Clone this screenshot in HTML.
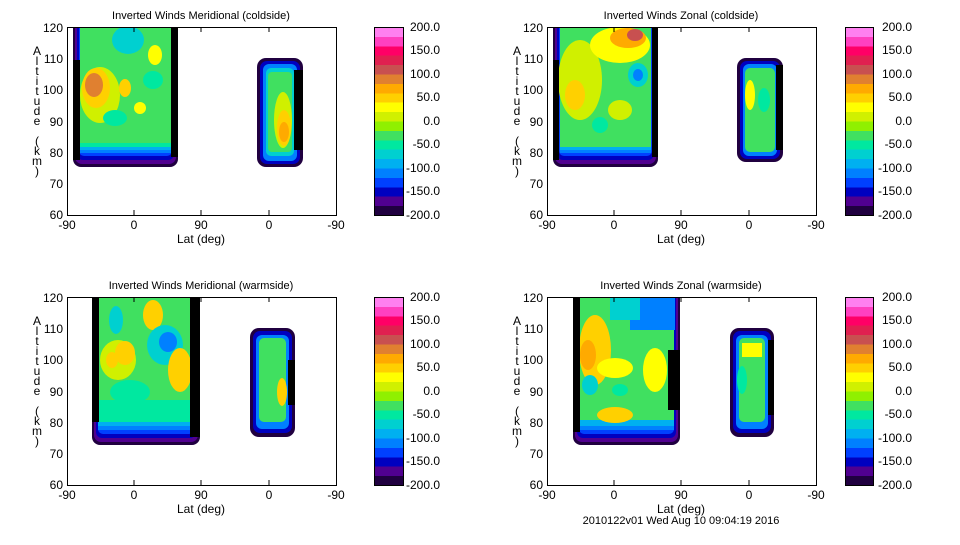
<!DOCTYPE html>
<html><head><meta charset="utf-8"><style>
body{margin:0;background:#fff}
svg text{font-family:"Liberation Sans","DejaVu Sans",sans-serif;font-size:11px;fill:#000}
</style></head><body>
<svg width="960" height="540" viewBox="0 0 960 540" xmlns="http://www.w3.org/2000/svg">
<defs>
<clipPath id="fr"><rect x="67" y="27" width="269" height="188"/></clipPath>
<linearGradient id="cb" x1="0" y1="0" x2="0" y2="1">
<stop offset="0" stop-color="#ff80f0"/><stop offset="0.05" stop-color="#ff80f0"/>
<stop offset="0.05" stop-color="#ff40c0"/><stop offset="0.1" stop-color="#ff40c0"/>
<stop offset="0.1" stop-color="#ff0066"/><stop offset="0.15" stop-color="#ff0066"/>
<stop offset="0.15" stop-color="#e02050"/><stop offset="0.2" stop-color="#e02050"/>
<stop offset="0.2" stop-color="#c85050"/><stop offset="0.25" stop-color="#c85050"/>
<stop offset="0.25" stop-color="#e08030"/><stop offset="0.3" stop-color="#e08030"/>
<stop offset="0.3" stop-color="#ffaa00"/><stop offset="0.35" stop-color="#ffaa00"/>
<stop offset="0.35" stop-color="#ffd000"/><stop offset="0.4" stop-color="#ffd000"/>
<stop offset="0.4" stop-color="#ffff00"/><stop offset="0.45" stop-color="#ffff00"/>
<stop offset="0.45" stop-color="#d0f000"/><stop offset="0.5" stop-color="#d0f000"/>
<stop offset="0.5" stop-color="#90f000"/><stop offset="0.55" stop-color="#90f000"/>
<stop offset="0.55" stop-color="#40e060"/><stop offset="0.6" stop-color="#40e060"/>
<stop offset="0.6" stop-color="#00e8a0"/><stop offset="0.65" stop-color="#00e8a0"/>
<stop offset="0.65" stop-color="#00d0d0"/><stop offset="0.7" stop-color="#00d0d0"/>
<stop offset="0.7" stop-color="#00b0f0"/><stop offset="0.75" stop-color="#00b0f0"/>
<stop offset="0.75" stop-color="#0080ff"/><stop offset="0.8" stop-color="#0080ff"/>
<stop offset="0.8" stop-color="#0040ff"/><stop offset="0.85" stop-color="#0040ff"/>
<stop offset="0.85" stop-color="#0000c0"/><stop offset="0.9" stop-color="#0000c0"/>
<stop offset="0.9" stop-color="#500090"/><stop offset="0.95" stop-color="#500090"/>
<stop offset="0.95" stop-color="#200040"/><stop offset="1" stop-color="#200040"/>
</linearGradient>
</defs>

<!-- ===== Panel TL ===== -->
<g>
<g clip-path="url(#fr)">
<g><rect x="73" y="10" width="105" height="157" rx="8" fill="#200040"/><rect x="75" y="10" width="101" height="154" rx="7" fill="#500090"/><rect x="77" y="10" width="97" height="150" rx="6" fill="#0000c0"/><rect x="79" y="10" width="93" height="146" rx="5" fill="#0040ff"/><rect x="80" y="10" width="91" height="143" fill="#0080ff"/><rect x="80" y="10" width="91" height="140" fill="#00b0f0"/><rect x="80" y="10" width="91" height="137" fill="#00e8a0"/><rect x="80" y="10" width="91" height="133" fill="#40e060"/></g>
<ellipse cx="100" cy="95" rx="20" ry="28" fill="#d0f000"/><ellipse cx="96" cy="88" rx="14" ry="20" fill="#ffd000"/><ellipse cx="94" cy="85" rx="9" ry="12" fill="#e08030"/>
<ellipse cx="125" cy="88" rx="6" ry="9" fill="#ffd000"/><ellipse cx="115" cy="118" rx="12" ry="8" fill="#00e8a0"/><ellipse cx="153" cy="80" rx="10" ry="9" fill="#00e8a0"/><ellipse cx="155" cy="55" rx="7" ry="10" fill="#ffff00"/><ellipse cx="140" cy="108" rx="6" ry="6" fill="#ffff00"/><ellipse cx="128" cy="40" rx="16" ry="14" fill="#00d0d0"/>
<rect x="73" y="60" width="7" height="100" fill="#000"/><rect x="171" y="27" width="7" height="130" fill="#000"/>
<g><rect x="257" y="58" width="46" height="109" rx="9" fill="#200040"/><rect x="260" y="61" width="40" height="103" rx="7" fill="#0000c0"/><rect x="263" y="64" width="34" height="97" rx="6" fill="#0080ff"/><rect x="266" y="68" width="28" height="88" rx="5" fill="#00d0d0"/><rect x="268" y="72" width="24" height="80" rx="4" fill="#40e060"/><ellipse cx="283" cy="120" rx="9" ry="28" fill="#d0f000"/><ellipse cx="284" cy="128" rx="7" ry="18" fill="#ffd000"/><ellipse cx="284" cy="132" rx="5" ry="10" fill="#ffaa00"/><rect x="294" y="70" width="9" height="80" fill="#000"/></g>
</g>
</g>

<!-- ===== Panel TR ===== -->
<g transform="translate(480,0)">
<g clip-path="url(#fr)">
<g><rect x="73" y="10" width="105" height="157" rx="8" fill="#200040"/><rect x="75" y="10" width="101" height="154" rx="7" fill="#500090"/><rect x="77" y="10" width="97" height="150" rx="6" fill="#0000c0"/><rect x="79" y="10" width="93" height="146" rx="5" fill="#0040ff"/><rect x="80" y="10" width="91" height="143" fill="#0080ff"/><rect x="80" y="10" width="91" height="140" fill="#00b0f0"/><rect x="80" y="10" width="91" height="137" fill="#40e060"/></g>
<ellipse cx="100" cy="80" rx="22" ry="40" fill="#d0f000"/><ellipse cx="95" cy="95" rx="10" ry="15" fill="#ffd000"/><ellipse cx="140" cy="45" rx="30" ry="18" fill="#ffff00"/><ellipse cx="148" cy="38" rx="18" ry="10" fill="#ffaa00"/><ellipse cx="155" cy="35" rx="8" ry="6" fill="#c85050"/>
<ellipse cx="158" cy="75" rx="10" ry="12" fill="#00d0d0"/><ellipse cx="158" cy="75" rx="5" ry="6" fill="#0080ff"/><ellipse cx="120" cy="125" rx="8" ry="8" fill="#00e8a0"/><ellipse cx="140" cy="110" rx="12" ry="10" fill="#d0f000"/>
<rect x="73" y="60" width="6" height="100" fill="#000"/><rect x="172" y="27" width="6" height="130" fill="#000"/>
<g><rect x="257" y="58" width="46" height="104" rx="9" fill="#200040"/><rect x="260" y="61" width="40" height="98" rx="7" fill="#0000c0"/><rect x="263" y="64" width="34" height="92" rx="6" fill="#0080ff"/><rect x="265" y="68" width="30" height="84" rx="5" fill="#40e060"/><ellipse cx="270" cy="95" rx="5" ry="15" fill="#ffff00"/><ellipse cx="284" cy="100" rx="6" ry="12" fill="#00e8a0"/><rect x="296" y="65" width="7" height="85" fill="#000"/></g>
</g>
</g>

<!-- ===== Panel BL ===== -->
<g transform="translate(0,270)">
<g clip-path="url(#fr)">
<g><rect x="92" y="10" width="108" height="165" rx="8" fill="#200040"/><rect x="94" y="10" width="104" height="162" rx="7" fill="#500090"/><rect x="96" y="10" width="100" height="158" rx="6" fill="#0000c0"/><rect x="98" y="10" width="96" height="154" rx="5" fill="#0040ff"/><rect x="98" y="10" width="96" height="150" fill="#0080ff"/><rect x="98" y="10" width="96" height="146" fill="#00b0f0"/><rect x="98" y="10" width="96" height="142" fill="#00e8a0"/><rect x="98" y="10" width="96" height="120" fill="#40e060"/></g>
<ellipse cx="118" cy="90" rx="18" ry="20" fill="#d0f000"/><ellipse cx="125" cy="83" rx="10" ry="12" fill="#ffd000"/><ellipse cx="112" cy="90" rx="6" ry="8" fill="#ffd000"/>
<ellipse cx="153" cy="45" rx="10" ry="15" fill="#ffd000"/><ellipse cx="165" cy="75" rx="18" ry="20" fill="#00d0d0"/><ellipse cx="168" cy="72" rx="9" ry="10" fill="#0080ff"/><ellipse cx="180" cy="100" rx="12" ry="22" fill="#ffd000"/><ellipse cx="116" cy="50" rx="7" ry="14" fill="#00d0d0"/><ellipse cx="130" cy="122" rx="20" ry="12" fill="#00e8a0"/>
<rect x="92" y="27" width="7" height="125" fill="#000"/><rect x="190" y="27" width="10" height="140" fill="#000"/>
<g><rect x="250" y="58" width="45" height="109" rx="9" fill="#200040"/><rect x="253" y="61" width="39" height="102" rx="7" fill="#0000c0"/><rect x="256" y="65" width="33" height="94" rx="6" fill="#0080ff"/><rect x="259" y="68" width="27" height="84" rx="5" fill="#40e060"/><ellipse cx="282" cy="122" rx="5" ry="14" fill="#ffd000"/><rect x="288" y="90" width="7" height="45" fill="#000"/></g>
</g>
</g>

<!-- ===== Panel BR ===== -->
<g transform="translate(480,270)">
<g clip-path="url(#fr)">
<g><rect x="93" y="10" width="107" height="165" rx="8" fill="#200040"/><rect x="95" y="10" width="103" height="162" rx="7" fill="#500090"/><rect x="97" y="10" width="99" height="158" rx="6" fill="#0000c0"/><rect x="99" y="10" width="95" height="154" rx="5" fill="#0040ff"/><rect x="99" y="10" width="95" height="150" fill="#0080ff"/><rect x="99" y="10" width="95" height="146" fill="#00b0f0"/><rect x="99" y="10" width="95" height="140" fill="#40e060"/></g>
<rect x="150" y="10" width="45" height="50" fill="#0080ff"/><rect x="130" y="10" width="30" height="40" fill="#00d0d0"/>
<ellipse cx="115" cy="80" rx="16" ry="35" fill="#ffd000"/><ellipse cx="108" cy="85" rx="8" ry="15" fill="#ffaa00"/><ellipse cx="135" cy="98" rx="18" ry="10" fill="#ffff00"/><ellipse cx="175" cy="100" rx="12" ry="22" fill="#ffff00"/><ellipse cx="135" cy="145" rx="18" ry="8" fill="#ffd000"/><ellipse cx="110" cy="115" rx="8" ry="10" fill="#00d0d0"/><ellipse cx="140" cy="120" rx="8" ry="6" fill="#00e8a0"/>
<rect x="93" y="27" width="7" height="135" fill="#000"/><rect x="188" y="80" width="12" height="60" fill="#000"/>
<g><rect x="250" y="58" width="44" height="109" rx="9" fill="#200040"/><rect x="253" y="61" width="38" height="102" rx="7" fill="#0000c0"/><rect x="256" y="65" width="32" height="94" rx="6" fill="#0080ff"/><rect x="259" y="68" width="26" height="84" rx="5" fill="#40e060"/><rect x="262" y="73" width="20" height="14" fill="#ffff00"/><ellipse cx="262" cy="110" rx="5" ry="14" fill="#00e8a0"/><rect x="288" y="70" width="6" height="75" fill="#000"/></g>
</g>
</g>

<!-- frames -->
<g fill="none" stroke="#000" stroke-width="1">
<rect x="67.5" y="27.5" width="269" height="188"/><rect x="547.5" y="27.5" width="269" height="188"/>
<rect x="67.5" y="297.5" width="269" height="188"/><rect x="547.5" y="297.5" width="269" height="188"/>
</g>
<g fill="url(#cb)" stroke="#000">
<rect x="374.5" y="27.5" width="29" height="188"/><rect x="845.5" y="27.5" width="28" height="188"/>
<rect x="374.5" y="297.5" width="29" height="188"/><rect x="845.5" y="297.5" width="28" height="188"/>
</g>

<g>
<text x="201" y="19" text-anchor="middle">Inverted Winds Meridional (coldside)</text>
<text x="681" y="19" text-anchor="middle">Inverted Winds Zonal (coldside)</text>
<text x="201" y="289" text-anchor="middle">Inverted Winds Meridional (warmside)</text>
<text x="681" y="289" text-anchor="middle">Inverted Winds Zonal (warmside)</text>
<text x="681" y="524" text-anchor="middle">2010122v01 Wed Aug 10 09:04:19 2016</text>
</g>

<g>
<g text-anchor="end">
<text x="63" y="32" style="font-size:12px">120</text><text x="63" y="63" style="font-size:12px">110</text><text x="63" y="94" style="font-size:12px">100</text><text x="63" y="126" style="font-size:12px">90</text><text x="63" y="157" style="font-size:12px">80</text><text x="63" y="188" style="font-size:12px">70</text><text x="63" y="219" style="font-size:12px">60</text>
</g>
<g text-anchor="middle">
<text x="67" y="229" style="font-size:12px">-90</text><text x="134" y="229" style="font-size:12px">0</text><text x="201" y="229" style="font-size:12px">90</text><text x="269" y="229" style="font-size:12px">0</text><text x="336" y="229" style="font-size:12px">-90</text>
<text x="201" y="243" style="font-size:12px">Lat (deg)</text>
</g>
<text x="37" y="55" text-anchor="middle" style="font-size:12px">A</text><text x="37" y="65" text-anchor="middle" style="font-size:12px">l</text><text x="37" y="75" text-anchor="middle" style="font-size:12px">t</text><text x="37" y="85" text-anchor="middle" style="font-size:12px">i</text><text x="37" y="95" text-anchor="middle" style="font-size:12px">t</text><text x="37" y="105" text-anchor="middle" style="font-size:12px">u</text><text x="37" y="115" text-anchor="middle" style="font-size:12px">d</text><text x="37" y="125" text-anchor="middle" style="font-size:12px">e</text><text x="37" y="145" text-anchor="middle" style="font-size:12px">(</text><text x="37" y="155" text-anchor="middle" style="font-size:12px">k</text><text x="37" y="165" text-anchor="middle" style="font-size:12px">m</text><text x="37" y="175" text-anchor="middle" style="font-size:12px">)</text>
<g text-anchor="end">
<text x="440" y="31" style="font-size:12px">200.0</text><text x="440" y="54" style="font-size:12px">150.0</text><text x="440" y="78" style="font-size:12px">100.0</text><text x="440" y="101" style="font-size:12px">50.0</text><text x="440" y="125" style="font-size:12px">0.0</text><text x="440" y="148" style="font-size:12px">-50.0</text><text x="440" y="172" style="font-size:12px">-100.0</text><text x="440" y="195" style="font-size:12px">-150.0</text><text x="440" y="219" style="font-size:12px">-200.0</text>
</g>
</g>

<g transform="translate(480,0)">
<g text-anchor="end">
<text x="63" y="32" style="font-size:12px">120</text><text x="63" y="63" style="font-size:12px">110</text><text x="63" y="94" style="font-size:12px">100</text><text x="63" y="126" style="font-size:12px">90</text><text x="63" y="157" style="font-size:12px">80</text><text x="63" y="188" style="font-size:12px">70</text><text x="63" y="219" style="font-size:12px">60</text>
</g>
<g text-anchor="middle">
<text x="67" y="229" style="font-size:12px">-90</text><text x="134" y="229" style="font-size:12px">0</text><text x="201" y="229" style="font-size:12px">90</text><text x="269" y="229" style="font-size:12px">0</text><text x="336" y="229" style="font-size:12px">-90</text>
<text x="201" y="243" style="font-size:12px">Lat (deg)</text>
</g>
<text x="37" y="55" text-anchor="middle" style="font-size:12px">A</text><text x="37" y="65" text-anchor="middle" style="font-size:12px">l</text><text x="37" y="75" text-anchor="middle" style="font-size:12px">t</text><text x="37" y="85" text-anchor="middle" style="font-size:12px">i</text><text x="37" y="95" text-anchor="middle" style="font-size:12px">t</text><text x="37" y="105" text-anchor="middle" style="font-size:12px">u</text><text x="37" y="115" text-anchor="middle" style="font-size:12px">d</text><text x="37" y="125" text-anchor="middle" style="font-size:12px">e</text><text x="37" y="145" text-anchor="middle" style="font-size:12px">(</text><text x="37" y="155" text-anchor="middle" style="font-size:12px">k</text><text x="37" y="165" text-anchor="middle" style="font-size:12px">m</text><text x="37" y="175" text-anchor="middle" style="font-size:12px">)</text>
<g text-anchor="end">
<text x="432" y="31" style="font-size:12px">200.0</text><text x="432" y="54" style="font-size:12px">150.0</text><text x="432" y="78" style="font-size:12px">100.0</text><text x="432" y="101" style="font-size:12px">50.0</text><text x="432" y="125" style="font-size:12px">0.0</text><text x="432" y="148" style="font-size:12px">-50.0</text><text x="432" y="172" style="font-size:12px">-100.0</text><text x="432" y="195" style="font-size:12px">-150.0</text><text x="432" y="219" style="font-size:12px">-200.0</text>
</g>
</g>

<g transform="translate(0,270)">
<g text-anchor="end">
<text x="63" y="32" style="font-size:12px">120</text><text x="63" y="63" style="font-size:12px">110</text><text x="63" y="94" style="font-size:12px">100</text><text x="63" y="126" style="font-size:12px">90</text><text x="63" y="157" style="font-size:12px">80</text><text x="63" y="188" style="font-size:12px">70</text><text x="63" y="219" style="font-size:12px">60</text>
</g>
<g text-anchor="middle">
<text x="67" y="229" style="font-size:12px">-90</text><text x="134" y="229" style="font-size:12px">0</text><text x="201" y="229" style="font-size:12px">90</text><text x="269" y="229" style="font-size:12px">0</text><text x="336" y="229" style="font-size:12px">-90</text>
<text x="201" y="243" style="font-size:12px">Lat (deg)</text>
</g>
<text x="37" y="55" text-anchor="middle" style="font-size:12px">A</text><text x="37" y="65" text-anchor="middle" style="font-size:12px">l</text><text x="37" y="75" text-anchor="middle" style="font-size:12px">t</text><text x="37" y="85" text-anchor="middle" style="font-size:12px">i</text><text x="37" y="95" text-anchor="middle" style="font-size:12px">t</text><text x="37" y="105" text-anchor="middle" style="font-size:12px">u</text><text x="37" y="115" text-anchor="middle" style="font-size:12px">d</text><text x="37" y="125" text-anchor="middle" style="font-size:12px">e</text><text x="37" y="145" text-anchor="middle" style="font-size:12px">(</text><text x="37" y="155" text-anchor="middle" style="font-size:12px">k</text><text x="37" y="165" text-anchor="middle" style="font-size:12px">m</text><text x="37" y="175" text-anchor="middle" style="font-size:12px">)</text>
<g text-anchor="end">
<text x="440" y="31" style="font-size:12px">200.0</text><text x="440" y="54" style="font-size:12px">150.0</text><text x="440" y="78" style="font-size:12px">100.0</text><text x="440" y="101" style="font-size:12px">50.0</text><text x="440" y="125" style="font-size:12px">0.0</text><text x="440" y="148" style="font-size:12px">-50.0</text><text x="440" y="172" style="font-size:12px">-100.0</text><text x="440" y="195" style="font-size:12px">-150.0</text><text x="440" y="219" style="font-size:12px">-200.0</text>
</g>
</g>

<g transform="translate(480,270)">
<g text-anchor="end">
<text x="63" y="32" style="font-size:12px">120</text><text x="63" y="63" style="font-size:12px">110</text><text x="63" y="94" style="font-size:12px">100</text><text x="63" y="126" style="font-size:12px">90</text><text x="63" y="157" style="font-size:12px">80</text><text x="63" y="188" style="font-size:12px">70</text><text x="63" y="219" style="font-size:12px">60</text>
</g>
<g text-anchor="middle">
<text x="67" y="229" style="font-size:12px">-90</text><text x="134" y="229" style="font-size:12px">0</text><text x="201" y="229" style="font-size:12px">90</text><text x="269" y="229" style="font-size:12px">0</text><text x="336" y="229" style="font-size:12px">-90</text>
<text x="201" y="243" style="font-size:12px">Lat (deg)</text>
</g>
<text x="37" y="55" text-anchor="middle" style="font-size:12px">A</text><text x="37" y="65" text-anchor="middle" style="font-size:12px">l</text><text x="37" y="75" text-anchor="middle" style="font-size:12px">t</text><text x="37" y="85" text-anchor="middle" style="font-size:12px">i</text><text x="37" y="95" text-anchor="middle" style="font-size:12px">t</text><text x="37" y="105" text-anchor="middle" style="font-size:12px">u</text><text x="37" y="115" text-anchor="middle" style="font-size:12px">d</text><text x="37" y="125" text-anchor="middle" style="font-size:12px">e</text><text x="37" y="145" text-anchor="middle" style="font-size:12px">(</text><text x="37" y="155" text-anchor="middle" style="font-size:12px">k</text><text x="37" y="165" text-anchor="middle" style="font-size:12px">m</text><text x="37" y="175" text-anchor="middle" style="font-size:12px">)</text>
<g text-anchor="end">
<text x="432" y="31" style="font-size:12px">200.0</text><text x="432" y="54" style="font-size:12px">150.0</text><text x="432" y="78" style="font-size:12px">100.0</text><text x="432" y="101" style="font-size:12px">50.0</text><text x="432" y="125" style="font-size:12px">0.0</text><text x="432" y="148" style="font-size:12px">-50.0</text><text x="432" y="172" style="font-size:12px">-100.0</text><text x="432" y="195" style="font-size:12px">-150.0</text><text x="432" y="219" style="font-size:12px">-200.0</text>
</g>
</g>

<g stroke="#000">
<path d="M134 215v-5M201 215v-5M269 215v-5M134 27v5M201 27v5M269 27v5M614 215v-5M681 215v-5M749 215v-5M614 27v5M681 27v5M749 27v5M134 485v-5M201 485v-5M269 485v-5M134 297v5M201 297v5M269 297v5M614 485v-5M681 485v-5M749 485v-5M614 297v5M681 297v5M749 297v5"/>
</g>
</svg>
</body></html>
